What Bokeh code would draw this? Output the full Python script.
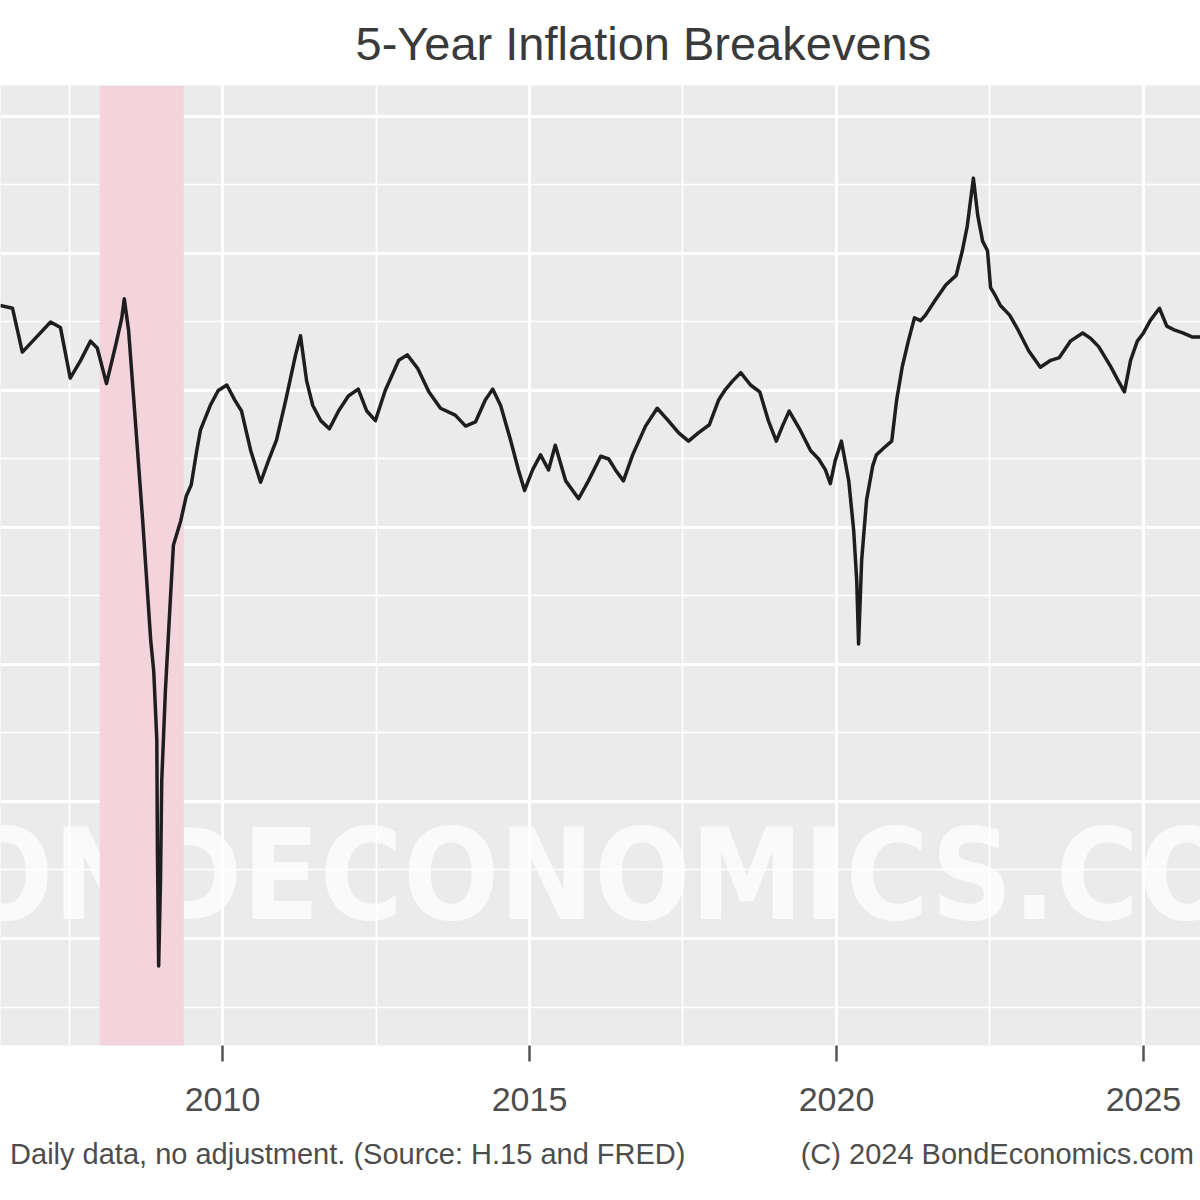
from bokeh.plotting import figure
from bokeh.models import Range1d, FixedTicker, Grid, LinearAxis, ColumnDataSource
from bokeh.core.properties import value
from bokeh.embed import file_html
from bokeh.resources import INLINE

# ---- data ----
years = [2006.38, 2006.58, 2006.74, 2006.95, 2007.20, 2007.36, 2007.52, 2007.69, 2007.85, 2007.96,
         2008.11, 2008.26, 2008.36, 2008.40, 2008.47, 2008.58, 2008.70, 2008.83, 2008.88, 2008.93,
         2008.94, 2008.96, 2008.99, 2009.01, 2009.07, 2009.15, 2009.20, 2009.32, 2009.41, 2009.49,
         2009.58, 2009.64, 2009.80, 2009.93, 2010.07, 2010.20, 2010.31, 2010.46, 2010.62, 2010.75,
         2010.88, 2011.03, 2011.19, 2011.27, 2011.37, 2011.47, 2011.60, 2011.74, 2011.89, 2012.05,
         2012.21, 2012.35, 2012.49, 2012.65, 2012.87, 2013.01, 2013.18, 2013.36, 2013.55, 2013.79,
         2013.96, 2014.12, 2014.28, 2014.40, 2014.53, 2014.69, 2014.82, 2014.92, 2015.05, 2015.18,
         2015.31, 2015.42, 2015.59, 2015.80, 2015.96, 2016.16, 2016.29, 2016.40, 2016.53, 2016.68,
         2016.89, 2017.08, 2017.26, 2017.43, 2017.59, 2017.75, 2017.93, 2018.08, 2018.18, 2018.31,
         2018.44, 2018.60, 2018.75, 2018.89, 2019.02, 2019.12, 2019.23, 2019.41, 2019.58, 2019.71,
         2019.82, 2019.90, 2019.98, 2020.08, 2020.20, 2020.28, 2020.33, 2020.36, 2020.41, 2020.49,
         2020.59, 2020.65, 2020.77, 2020.90, 2020.98, 2021.07, 2021.17, 2021.27, 2021.37, 2021.45,
         2021.61, 2021.78, 2021.95, 2022.05, 2022.13, 2022.23, 2022.30, 2022.38, 2022.46, 2022.51,
         2022.59, 2022.67, 2022.82, 2022.96, 2023.13, 2023.32, 2023.49, 2023.63, 2023.81, 2024.01,
         2024.14, 2024.27, 2024.46, 2024.59, 2024.69, 2024.79, 2024.90, 2025.00, 2025.11, 2025.26,
         2025.38, 2025.51, 2025.64, 2025.80, 2025.93]
breakeven = [2.62, 2.60, 2.28, 2.38, 2.50, 2.46, 2.09, 2.22, 2.36, 2.31,
             2.05, 2.33, 2.53, 2.67, 2.44, 1.78, 1.05, 0.18, -0.05, -0.55,
             -1.36, -2.20, -1.58, -0.85, -0.19, 0.47, 0.87, 1.05, 1.23, 1.31,
             1.56, 1.71, 1.89, 2.00, 2.04, 1.93, 1.85, 1.56, 1.33, 1.49,
             1.64, 1.93, 2.26, 2.40, 2.07, 1.89, 1.78, 1.72, 1.85, 1.96,
             2.01, 1.85, 1.78, 2.00, 2.22, 2.26, 2.16, 1.99, 1.87, 1.82,
             1.74, 1.77, 1.93, 2.01, 1.89, 1.64, 1.42, 1.27, 1.42, 1.53,
             1.42, 1.60, 1.34, 1.21, 1.34, 1.52, 1.50, 1.42, 1.34, 1.53,
             1.74, 1.87, 1.78, 1.69, 1.63, 1.69, 1.75, 1.93, 2.00, 2.07,
             2.13, 2.04, 1.99, 1.78, 1.63, 1.74, 1.85, 1.71, 1.56, 1.50,
             1.42, 1.32, 1.49, 1.63, 1.34, 0.98, 0.61, 0.15, 0.76, 1.20,
             1.45, 1.53, 1.58, 1.63, 1.93, 2.17, 2.36, 2.53, 2.51, 2.55,
             2.66, 2.77, 2.84, 3.02, 3.20, 3.55, 3.28, 3.09, 3.02, 2.75,
             2.69, 2.62, 2.55, 2.44, 2.29, 2.17, 2.22, 2.24, 2.36, 2.42,
             2.38, 2.32, 2.18, 2.07, 1.99, 2.22, 2.36, 2.42, 2.51, 2.60,
             2.47, 2.44, 2.42, 2.39, 2.39]

recession_start = [2008.0]
recession_end = [2009.37]

x_ticks = [2010, 2015, 2020, 2025]
x_minor = [2007.5, 2012.5, 2017.5, 2022.5]
y_ticks = [-2, -1, 0, 1, 2, 3, 4]
y_minor = [-2.5, -1.5, -0.5, 0.5, 1.5, 2.5, 3.5]

title_text = "5-Year Inflation Breakevens"
caption_left = "Daily data, no adjustment. (Source: H.15 and FRED)"
caption_right = "(C) 2024 BondEconomics.com"
caption_pos = [2012.04, 2022.62]   # centre of each caption along the date axis
watermark = "BONDECONOMICS.COM"
watermark_pos = (2016.30, -1.54)

SANS = "'Liberation Sans', Arial, sans-serif"
WM_FONT = "'DejaVu Sans Condensed', 'Liberation Sans Narrow', sans-serif"

X0, X1 = 2006.384, 2025.929
Y0, Y1 = -2.781, 4.226

p = figure(width=1200, height=1200, output_backend="svg", toolbar_location=None,
           x_range=Range1d(X0, X1), y_range=Range1d(Y0, Y1),
           y_axis_location=None)
p.min_border_left = 0
p.min_border_right = 0
p.min_border_top = 85
p.min_border_bottom = 155
p.background_fill_color = "#EBEBEB"
p.border_fill_color = "white"
p.outline_line_color = None

# title
p.title.text = title_text
p.title.align = "left"
p.title.vertical_align = "top"
p.title.text_baseline = "middle"
p.title.offset = 355
p.title.standoff = 28
p.title.text_font = SANS
p.title.text_font_size = "47px"
p.title.text_font_style = "normal"
p.title.text_color = "#3A3A3A"

# x axis
ax = p.xaxis[0]
ax.ticker = FixedTicker(ticks=x_ticks, minor_ticks=x_minor)
ax.major_label_overrides = {t: str(t) for t in x_ticks}
ax.axis_line_color = None
ax.minor_tick_line_color = None
ax.major_tick_line_color = "#555555"
ax.major_tick_line_width = 2.5
ax.major_tick_in = 0
ax.major_tick_out = 16
ax.major_label_standoff = 26
ax.major_label_text_font_size = "34px"
ax.major_label_text_color = "#4D4D4D"
ax.major_label_text_font = SANS

# caption row (second axis carrying the two caption texts)
cap_axis = LinearAxis(ticker=FixedTicker(ticks=caption_pos, minor_ticks=[]),
                      major_label_overrides={caption_pos[0]: caption_left,
                                             caption_pos[1]: caption_right})
cap_axis.axis_line_color = None
cap_axis.major_tick_line_color = None
cap_axis.minor_tick_line_color = None
cap_axis.major_label_standoff = 18
cap_axis.major_label_text_font_size = "29px"
cap_axis.major_label_text_color = "#4D4D4D"
cap_axis.major_label_text_font = SANS
p.add_layout(cap_axis, "below")

xg = p.xgrid[0]
xg.grid_line_color = "white"
xg.grid_line_width = 3
xg.minor_grid_line_color = "white"
xg.minor_grid_line_width = 1.6

yg = Grid(dimension=1, ticker=FixedTicker(ticks=y_ticks, minor_ticks=y_minor),
          grid_line_color="white", grid_line_width=3,
          minor_grid_line_color="white", minor_grid_line_width=1.6)
p.add_layout(yg)

# watermark
p.text(x=[watermark_pos[0]], y=[watermark_pos[1]], text=[watermark],
       text_align="center", text_baseline="middle",
       text_font=value(WM_FONT), text_font_style="bold", text_font_size="126px",
       text_color="white", text_alpha=0.72)

# recession shading
p.quad(left=recession_start, right=recession_end, bottom=[Y0], top=[Y1],
       fill_color="#F4D4DC", line_color=None)

# series
src = ColumnDataSource(data=dict(x=years, y=breakeven))
p.line("x", "y", source=src, line_color="#1E1E1E", line_width=3.5, line_join="round")

open("out.html", "w").write(file_html(p, INLINE))
